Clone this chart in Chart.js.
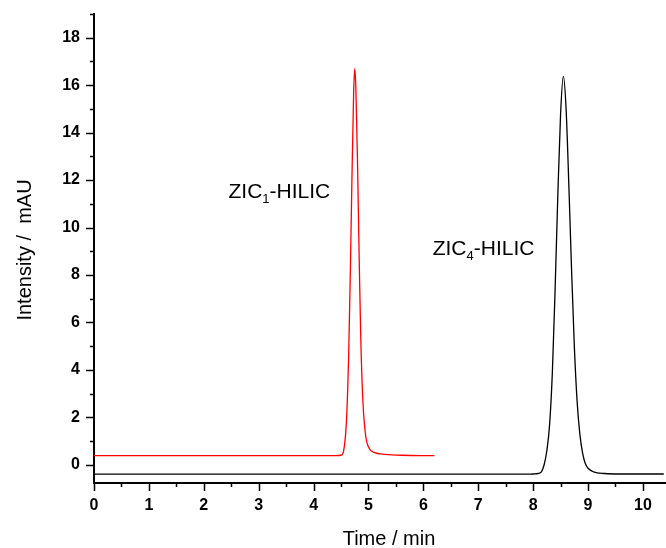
<!DOCTYPE html>
<html>
<head>
<meta charset="utf-8">
<script src="https://cdn.jsdelivr.net/npm/chart.js@4/dist/chart.umd.min.js"></script>
<style>
  html, body { margin: 0; padding: 0; background: #fff; }
  #wrap { width: 666px; height: 548px; }
</style>
</head>
<body>
<div id="wrap"><canvas id="chrom"></canvas></div>
<script>
// ZIC1-HILIC trace (red)
var zic1Time = [0, 4.40, 4.50, 4.55, 4.60, 4.64, 4.67, 4.70, 4.73, 4.75, 4.77, 4.80, 4.83, 4.86, 4.90, 4.95, 5.00, 5.10, 5.30, 5.60, 6.20];
var zic1Int  = [0.38, 0.38, 0.40, 0.62, 1.90, 4.70, 8.20, 12.2, 15.7, 16.7, 15.9, 12.8, 8.80, 5.30, 2.60, 1.20, 0.75, 0.52, 0.44, 0.40, 0.38];

// ZIC4-HILIC trace (black)
var zic4Time = [0, 7.90, 8.00, 8.10, 8.15, 8.20, 8.25, 8.30, 8.35, 8.40, 8.45, 8.50, 8.55, 8.60, 8.65, 8.70, 8.75, 8.80, 8.85, 8.90, 8.95, 9.00, 9.10, 9.30, 9.60, 10.38];
var zic4Int  = [-0.40, -0.40, -0.39, -0.36, -0.30, 0.0, 0.60, 1.70, 3.90, 7.40, 11.4, 14.8, 16.37, 15.0, 11.8, 8.20, 5.00, 2.70, 1.30, 0.50, 0.05, -0.15, -0.30, -0.37, -0.39, -0.39];

var xTicks = [0, 1, 2, 3, 4, 5, 6, 7, 8, 9, 10];
var yTicks = [0, 2, 4, 6, 8, 10, 12, 14, 16, 18];

var peakLabels = [
  { main: "ZIC", sub: "1", rest: "-HILIC", x: 2.45, y: 11.26 },
  { main: "ZIC", sub: "4", rest: "-HILIC", x: 6.17, y: 8.85 }
];

function toPoints(xs, ys) {
  return xs.map(function(x, i) { return { x: x, y: ys[i] }; });
}

// ticks (major + minor, outward), axis titles and peak labels
var decorPlugin = {
  id: "decor",
  afterDraw: function(chart) {
    var ctx = chart.ctx;
    var xs = chart.scales.x, ys = chart.scales.y;
    var area = chart.chartArea;
    ctx.save();
    ctx.strokeStyle = "#000";
    ctx.lineWidth = 1.5;
    ctx.beginPath();
    for (var t = 0; t <= 10.4; t += 0.5) {
      var px = Math.round(xs.getPixelForValue(t)) + 0.5;
      var len = (Math.abs(t - Math.round(t)) < 0.01) ? 8 : 4;
      ctx.moveTo(px, area.bottom);
      ctx.lineTo(px, area.bottom + len);
    }
    for (var v = 0; v <= 19; v += 1) {
      var py = Math.round(ys.getPixelForValue(v)) + 0.5;
      var ylen = (v % 2 === 0) ? 8 : 4;
      ctx.moveTo(area.left, py);
      ctx.lineTo(area.left - ylen, py);
    }
    ctx.stroke();

    ctx.fillStyle = "#000";
    ctx.font = "20px 'Liberation Sans', Arial, sans-serif";
    ctx.textAlign = "center";
    ctx.textBaseline = "alphabetic";
    ctx.fillText("Time / min", 389, 545);

    ctx.save();
    ctx.translate(31, 250);
    ctx.rotate(-Math.PI / 2);
    ctx.fillText("Intensity /  mAU", 0, 0);
    ctx.restore();

    ctx.textAlign = "left";
    peakLabels.forEach(function(lb) {
      var lx = xs.getPixelForValue(lb.x);
      var ly = ys.getPixelForValue(lb.y);
      ctx.font = "21px 'Liberation Sans', Arial, sans-serif";
      ctx.fillText(lb.main, lx, ly);
      lx += ctx.measureText(lb.main).width;
      ctx.font = "13px 'Liberation Sans', Arial, sans-serif";
      ctx.fillText(lb.sub, lx, ly + 5);
      lx += ctx.measureText(lb.sub).width;
      ctx.font = "21px 'Liberation Sans', Arial, sans-serif";
      ctx.fillText(lb.rest, lx, ly);
    });
    ctx.restore();
  }
};

new Chart(document.getElementById("chrom"), {
  type: "line",
  data: {
    datasets: [
      {
        label: "ZIC1-HILIC",
        data: toPoints(zic1Time, zic1Int),
        borderColor: "#ff0000",
        borderWidth: 1.3,
        pointRadius: 0,
        cubicInterpolationMode: "monotone",
        fill: false
      },
      {
        label: "ZIC4-HILIC",
        data: toPoints(zic4Time, zic4Int),
        borderColor: "#000000",
        borderWidth: 1.3,
        pointRadius: 0,
        cubicInterpolationMode: "monotone",
        fill: false
      }
    ]
  },
  options: {
    responsive: true,
    maintainAspectRatio: false,
    animation: false,
    layout: { padding: { top: 14, right: 0, left: 0, bottom: 0 } },
    plugins: {
      legend: { display: false },
      tooltip: { enabled: false }
    },
    scales: {
      x: {
        type: "linear",
        min: 0,
        max: 10.42,
        afterFit: function(s) { s.height = 65; s.paddingLeft = 0; s.paddingRight = 0; },
        afterBuildTicks: function(s) { s.ticks = xTicks.map(function(v) { return { value: v }; }); },
        grid: { display: false, drawTicks: false },
        border: { display: true, color: "#000", width: 2 },
        ticks: {
          color: "#000",
          padding: 13,
          font: { family: "'Liberation Sans', Arial, sans-serif", size: 16, weight: "bold" },
          maxRotation: 0,
          autoSkip: false
        }
      },
      y: {
        type: "linear",
        min: -0.77,
        max: 19,
        afterFit: function(s) { s.width = 94; s.paddingTop = 0; s.paddingBottom = 0; },
        afterBuildTicks: function(s) { s.ticks = yTicks.map(function(v) { return { value: v }; }); },
        grid: { display: false, drawTicks: false },
        border: { display: true, color: "#000", width: 2 },
        ticks: {
          color: "#000",
          padding: 14,
          font: { family: "'Liberation Sans', Arial, sans-serif", size: 16, weight: "bold" },
          autoSkip: false
        }
      }
    }
  },
  plugins: [decorPlugin]
});
</script>
</body>
</html>
